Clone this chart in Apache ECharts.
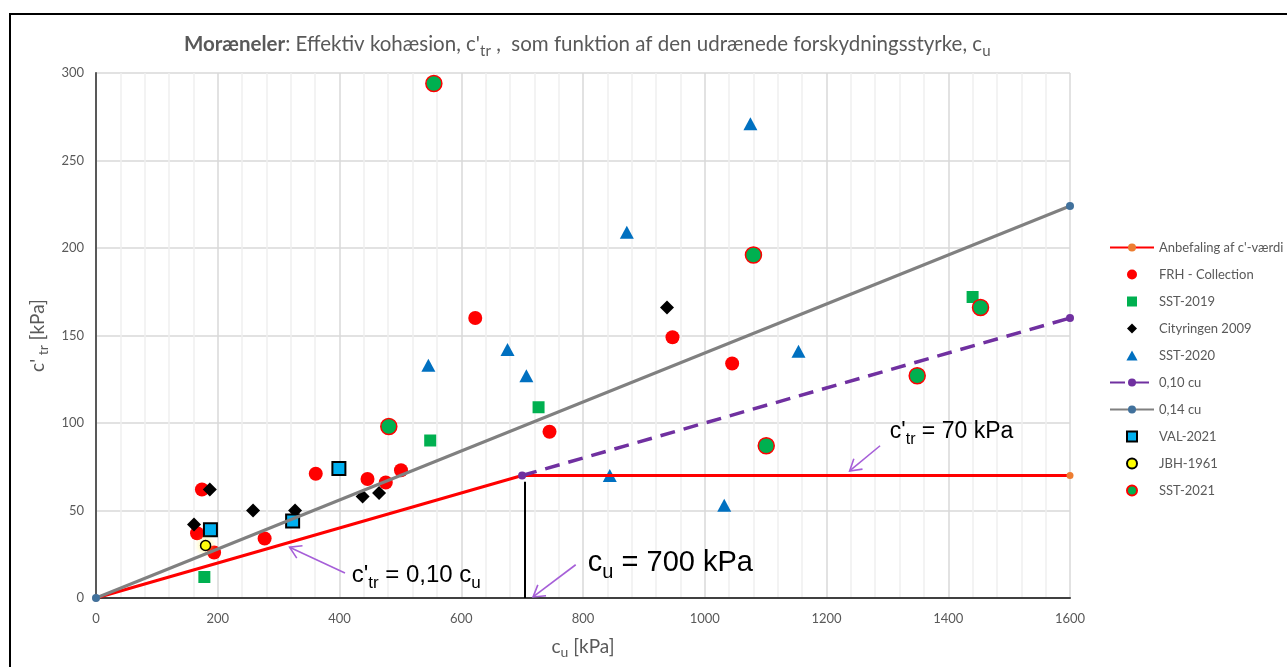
<!DOCTYPE html>
<html><head><meta charset="utf-8">
<script src="https://cdn.jsdelivr.net/npm/echarts@6/dist/echarts.min.js"></script>
<style>html,body{margin:0;padding:0;background:#fff}#c{width:1287px;height:667px}</style>
</head><body><div id="c"></div>
<script>
// ---- data ----
const frhCollection = [[174,62],[166,37],[194,26],[277,34],[361,71],[446,68],[476,66],[501,73],[623,160],[947,149],[1045,134],[745,95]];
const sst2019 = [[178,12],[549,90],[727,109],[1440,172]];
const cityringen2009 = [[161,42],[187,62],[258,50],[327,50],[438,58],[465,60],[938,166]];
const sst2020 = [[546,133],[676,142],[707,127],[872,209],[1075,271],[1154,141],[844,70],[1032,53]];
const val2021 = [[188,39],[323,44],[399,74]];
const jbh1961 = [[180,30]];
const sst2021 = [[555,294],[481,98],[1080,196],[1453,166],[1349,127],[1101,87]];
const anbefaling = [[0,0],[700,70],[1600,70]];
const cu010 = [[700,70],[1600,160]];
const cu014 = [[0,0],[1600,224]];
const cuLimit = 705;   // vertical marker line at cu = 700 kPa
const cuLimitTop = 66.5;
const legendNames = ["Anbefaling af c'-værdi","FRH - Collection","SST-2019","Cityringen 2009","SST-2020","0,10 cu","0,14 cu","VAL-2021","JBH-1961","SST-2021"];

const FONT = "Lato,'Open Sans',sans-serif";
const ARIAL = "'Liberation Sans',Arial,sans-serif";
const GRAY = '#595959';

const chart = echarts.init(document.getElementById('c'));

const subRich = (size, color, drop) => ({
  n: {fontSize: size, fontFamily: FONT, color: color, fontWeight: 'normal'},
  b: {fontSize: size, fontFamily: FONT, color: color, fontWeight: 'bold'},
  s: {fontSize: Math.round(size*0.72), fontFamily: FONT, color: color, fontWeight: 'normal', lineHeight: Math.round(size*0.7), padding: [drop,0,0,0]}
});

const ICONS = {
  'SST-2019': 'path://M0,0H10V10H0Z',
  'Cityringen 2009': 'path://M5,0L10,5L5,10L0,5Z',
  'SST-2020': 'path://M5,0L10,9H0Z',
  'VAL-2021': 'path://M0,0H10V10H0Z'
};

const option = {
  animation: false,
  backgroundColor: '#fff',
  title: {
    left: 179, top: 29,
    text: "{b|Moræneler}{n|: Effektiv kohæsion, c'}{s|tr}{n| ,  som funktion af den udrænede forskydningsstyrke, c}{s|u}",
    textStyle: {fontWeight: 'normal', rich: subRich(20.5, GRAY, 14)}
  },
  legend: {
    orient: 'vertical', left: 1104, top: 236,
    itemWidth: 44, itemHeight: 10, itemGap: 14,
    symbolKeepAspect: true,
    textStyle: {fontSize: 13, color: GRAY, fontFamily: FONT},
    data: legendNames.map(n => ICONS[n] ? {name: n, icon: ICONS[n]} : {name: n})
  },
  grid: {left: 96, top: 73, width: 974, height: 525, containLabel: false},
  xAxis: [{
    type: 'value', min: 0, max: 1600, interval: 200,
    name: '{n|c}{s|u}{n| [kPa]}', nameLocation: 'middle', nameGap: 39,
    nameTextStyle: {rich: subRich(19, GRAY, 12)},
    axisLine: {show: true, onZero: false, lineStyle: {color: '#BFBFBF', width: 1.5}},
    axisTick: {show: false},
    axisLabel: {color: GRAY, fontSize: 13, fontFamily: FONT, margin: 14, formatter: v => String(v)},
    splitLine: {show: true, lineStyle: {color: '#D9D9D9', width: 1.5}},
    minorTick: {show: false, splitNumber: 5},
    minorSplitLine: {show: true, lineStyle: {color: '#F0F0F0', width: 1.5}}
  },{
    type: 'value', min: 0, max: 1600, position: 'top',
    axisLine: {show: true, lineStyle: {color: '#404040', width: 2}},
    axisTick: {show: false}, axisLabel: {show: false}, splitLine: {show: false}
  }],
  yAxis: [{
    type: 'value', min: 0, max: 300, interval: 50,
    name: "{n|c'}{s| tr}{n| [kPa]}", nameLocation: 'middle', nameGap: 34, nameRotate: 90,
    nameTextStyle: {rich: subRich(19, GRAY, 12)},
    axisLine: {show: true, onZero: false, lineStyle: {color: '#BFBFBF', width: 1.5}},
    axisTick: {show: false},
    axisLabel: {color: GRAY, fontSize: 13, fontFamily: FONT, margin: 12, formatter: v => String(v)},
    splitLine: {show: true, lineStyle: {color: '#D9D9D9', width: 1.5}}
  },{
    type: 'value', min: 0, max: 300, position: 'right',
    axisLine: {show: true, lineStyle: {color: '#595959', width: 2}},
    axisTick: {show: false}, axisLabel: {show: false}, splitLine: {show: false}
  }],
  series: [
    {name: "Anbefaling af c'-værdi", type: 'line', data: anbefaling, symbol: 'circle', symbolSize: 7,
     itemStyle: {color: '#ED7D31'}, lineStyle: {color: '#FF0000', width: 3},
     markLine: {silent: true, symbol: 'none', label: {show: false},
       lineStyle: {color: '#000', width: 2, type: 'solid'},
       data: [[{coord: [cuLimit, 0]}, {coord: [cuLimit, cuLimitTop]}]]}},
    {name: 'FRH - Collection', type: 'scatter', data: frhCollection, symbol: 'circle', symbolSize: 14,
     itemStyle: {color: '#FF0000', opacity: 1}},
    {name: 'SST-2019', type: 'scatter', data: sst2019, symbol: 'rect', symbolSize: 12,
     itemStyle: {color: '#00B050', opacity: 1}},
    {name: 'Cityringen 2009', type: 'scatter', data: cityringen2009, symbol: 'diamond', symbolSize: 14,
     itemStyle: {color: '#000000', opacity: 1}},
    {name: 'SST-2020', type: 'scatter', data: sst2020, symbol: 'triangle', symbolSize: [14,13],
     itemStyle: {color: '#0070C0', opacity: 1}},
    {name: '0,10 cu', type: 'line', data: cu010, symbol: 'circle', symbolSize: 8,
     itemStyle: {color: '#7030A0'}, lineStyle: {color: '#7030A0', width: 3.5, type: [15,9]}},
    {name: '0,14 cu', type: 'line', data: cu014, symbol: 'circle', symbolSize: 8,
     itemStyle: {color: '#41719C'}, lineStyle: {color: '#808080', width: 3}},
    {name: 'VAL-2021', type: 'scatter', data: val2021, symbol: 'rect', symbolSize: 13,
     itemStyle: {color: '#00B0F0', borderColor: '#000', borderWidth: 2, opacity: 1}},
    {name: 'JBH-1961', type: 'scatter', data: jbh1961, symbol: 'circle', symbolSize: 10,
     itemStyle: {color: '#FFFF00', borderColor: '#000', borderWidth: 1.5, opacity: 1,
       shadowBlur: 6, shadowColor: 'rgba(255,240,80,0.7)'}},
    {name: 'SST-2021', type: 'scatter', data: sst2021, symbol: 'circle', symbolSize: 16,
     itemStyle: {color: '#00B050', borderColor: '#FF0000', borderWidth: 1.5, opacity: 1}}
  ]
};
chart.setOption(option);

// ---- annotations (anchored in data coordinates) ----
const notes = [
  {tail: [409, 14.3], tip: [318, 29], text: [420, 13], size: 24, label: "{n|c'}{s|tr}{n| = 0,10 c}{s|u}"},
  {tail: [788, 19], tip: [718, 0.6], text: [808, 20], size: 29, label: "{n|c}{s|u}{n| = 700 kPa}"},
  {tail: [1288, 87], tip: [1238, 72.6], text: [1304, 95], size: 23, label: "{n|c'}{s|tr}{n| = 70 kPa}"}
];
const P = v => chart.convertToPixel({xAxisIndex: 0, yAxisIndex: 0}, v);
const graphics = [{
  type: 'rect', shape: {x: 10, y: 14, width: 1300, height: 700}, silent: true, z: 100,
  style: {fill: 'none', stroke: '#000', lineWidth: 2}
}];
const ARROW = '#A65FD8';
notes.forEach(nt => {
  const a = P(nt.tail), b = P(nt.tip);
  const ang = Math.atan2(b[1]-a[1], b[0]-a[0]);
  const L = 13, w = 0.55;
  const h1 = [b[0]-L*Math.cos(ang-w), b[1]-L*Math.sin(ang-w)];
  const h2 = [b[0]-L*Math.cos(ang+w), b[1]-L*Math.sin(ang+w)];
  graphics.push({type: 'polyline', shape: {points: [a, b]}, style: {stroke: ARROW, lineWidth: 1.6, fill: null}, z: 50});
  graphics.push({type: 'polyline', shape: {points: [h1, b, h2]}, style: {stroke: ARROW, lineWidth: 1.6, fill: null}, z: 50});
  const t = P(nt.text);
  const ss = Math.round(nt.size*0.7);
  graphics.push({type: 'text', x: t[0], y: t[1], z: 50,
    style: {text: nt.label, align: 'left', verticalAlign: 'middle',
      rich: {
        n: {fontSize: nt.size, fontFamily: ARIAL, fill: '#000'},
        s: {fontSize: ss, fontFamily: ARIAL, fill: '#000', lineHeight: ss, padding: [Math.round(nt.size*0.65),0,0,0]}
      }}});
});
chart.setOption({graphic: graphics});
</script>
</body></html>
